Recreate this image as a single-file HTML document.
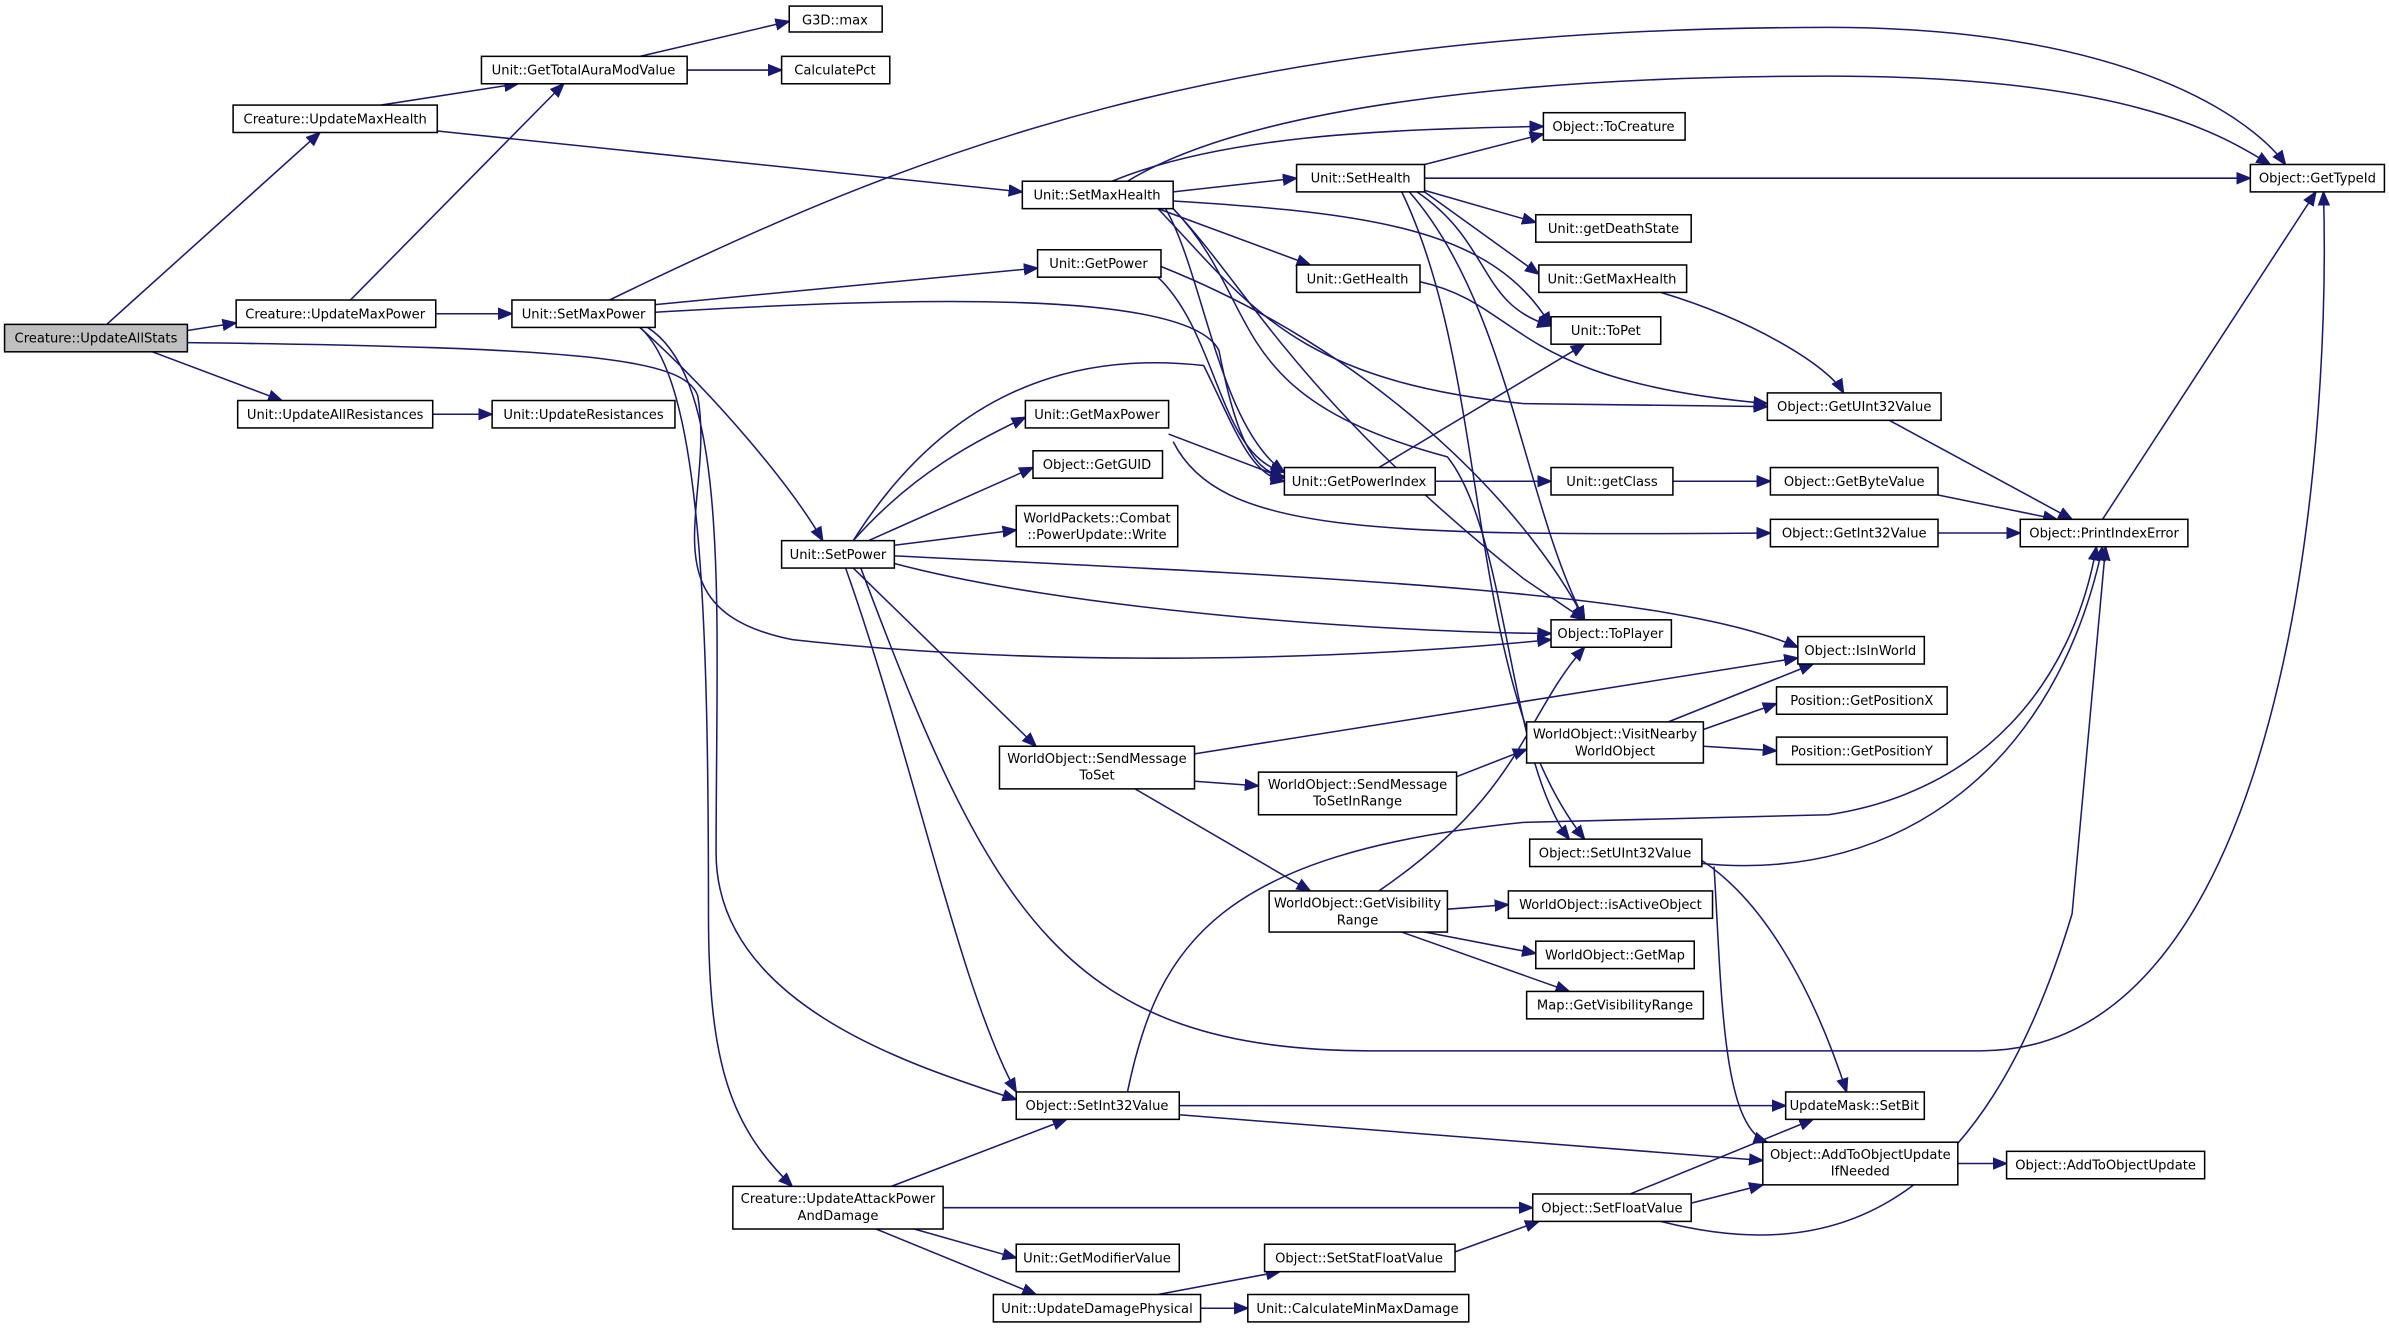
<!DOCTYPE html>
<html><head><meta charset="utf-8"><style>
html,body{margin:0;padding:0;background:#fff;width:2389px;height:1328px;overflow:hidden}
svg{display:block}
text{font-family:"DejaVu Sans","Liberation Sans",sans-serif;font-size:8.6px;fill:#000;text-anchor:middle}
rect{fill:#fff;stroke:#000;stroke-width:1}
path{fill:none;stroke:#191970;stroke-width:1}
</style></head><body>
<svg width="2389" height="1328" viewBox="0 0 1568 872" preserveAspectRatio="none" xmlns="http://www.w3.org/2000/svg">
<defs><marker id="a" viewBox="0 0 10 10" refX="10" refY="5" markerWidth="9" markerHeight="9" markerUnits="userSpaceOnUse" orient="auto"><path d="M0,1 L10,5 L0,9 z" style="fill:#191970;stroke:#191970"/></marker></defs>
<g marker-end="url(#a)">
<path d="M70,213 L210,87"/>
<path d="M123,217 L155,212"/>
<path d="M100,231 L185,263"/>
<path d="M123,225 C380,228 450,235 458,260 C470,330 420,400 520,420 C700,440 900,432 1018,420"/>
<path d="M250,69 L340,55"/>
<path d="M287,86 L671,126"/>
<path d="M230,197 L370,55"/>
<path d="M286,206 L336,206"/>
<path d="M284,272 L323,272"/>
<path d="M420,37 L518,14"/>
<path d="M451,46 L513,46"/>
<path d="M400,197 C600,100 800,18 1200,18 C1400,18 1480,80 1500,108"/>
<path d="M430,200 L681,176"/>
<path d="M430,205 C600,195 780,190 800,230 C810,280 820,310 843,313"/>
<path d="M420,215 C470,260 520,320 540,355"/>
<path d="M425,215 C480,250 470,400 470,560 C470,660 600,700 667,722"/>
<path d="M420,215 C460,250 465,400 465,600 C465,700 480,740 520,779"/>
<path d="M730,119 C800,90 900,85 1013,83"/>
<path d="M740,119 C820,70 1000,50 1200,50 C1400,50 1460,90 1490,108"/>
<path d="M770,126 L851,117"/>
<path d="M760,137 L860,174"/>
<path d="M770,132 C900,140 980,150 1018,214"/>
<path d="M760,137 C820,200 850,250 1000,265 L1160,267"/>
<path d="M765,137 C790,180 800,280 843,310"/>
<path d="M770,137 C820,190 850,260 1000,380 L1040,407"/>
<path d="M770,137 C830,200 800,260 950,300 C990,350 990,500 1030,551"/>
<path d="M935,108 L1013,88"/>
<path d="M935,117 L1477,117"/>
<path d="M935,125 L1008,146"/>
<path d="M935,126 L1010,180"/>
<path d="M930,126 C980,160 970,200 1018,214"/>
<path d="M925,126 C990,200 1000,330 1040,407"/>
<path d="M920,126 C980,250 960,450 1040,551"/>
<path d="M932,185 C1000,200 990,250 1160,265"/>
<path d="M760,182 C800,220 800,300 843,310"/>
<path d="M762,175 C900,230 1000,330 1040,407"/>
<path d="M1090,192 C1150,210 1200,240 1210,258"/>
<path d="M767,285 L843,314"/>
<path d="M770,290 C800,350 900,352 1162,350"/>
<path d="M560,355 C600,310 640,290 673,274"/>
<path d="M570,355 L678,307"/>
<path d="M587,358 L667,348"/>
<path d="M560,355 C620,260 700,230 790,240 C810,280 820,312 843,316"/>
<path d="M587,365 C900,380 1100,390 1180,425"/>
<path d="M587,370 C700,400 900,415 1018,416"/>
<path d="M560,373 L680,490"/>
<path d="M555,373 C600,500 630,650 667,717"/>
<path d="M565,373 C650,600 700,690 900,690 L1300,690 C1500,690 1530,300 1525,126"/>
<path d="M942,316 L1018,316"/>
<path d="M905,307 L1040,226"/>
<path d="M1098,316 L1162,316"/>
<path d="M1272,325 L1350,341"/>
<path d="M1272,350 L1326,350"/>
<path d="M1240,276 L1360,341"/>
<path d="M1380,341 L1520,126"/>
<path d="M784,495 L1180,432"/>
<path d="M784,513 L826,516"/>
<path d="M745,518 L860,585"/>
<path d="M956,510 L1002,492"/>
<path d="M1095,474 L1190,436"/>
<path d="M1118,479 L1166,462"/>
<path d="M1118,490 L1166,493"/>
<path d="M905,585 C1000,520 1000,470 1040,425"/>
<path d="M950,597 L990,594"/>
<path d="M935,612 L1008,626"/>
<path d="M920,612 L1030,651"/>
<path d="M1117,567 C1250,580 1350,500 1380,359"/>
<path d="M1117,565 C1170,600 1200,680 1212,717"/>
<path d="M1125,569 C1130,650 1130,740 1160,750"/>
<path d="M740,717 C760,620 800,560 1000,540 L1200,535 C1300,520 1360,450 1376,359"/>
<path d="M774,726 L1172,726"/>
<path d="M774,732 L1157,762"/>
<path d="M1285,764 L1317,764"/>
<path d="M585,779 L700,735"/>
<path d="M619,793 L1006,793"/>
<path d="M600,807 L667,826"/>
<path d="M575,807 L680,850"/>
<path d="M1070,784 L1190,735"/>
<path d="M1110,790 L1157,778"/>
<path d="M1090,802 C1200,830 1300,800 1360,600 L1382,359"/>
<path d="M955,822 L1010,802"/>
<path d="M760,850 L840,835"/>
<path d="M788,859 L819,859"/>
</g>
<rect x="3" y="213" width="120" height="18" style="fill:#bfbfbf"/><text x="63" y="225">Creature::UpdateAllStats</text>
<rect x="153" y="69" width="134" height="18"/><text x="220" y="81">Creature::UpdateMaxHealth</text>
<rect x="155" y="197" width="131" height="18"/><text x="220" y="209">Creature::UpdateMaxPower</text>
<rect x="156" y="263" width="128" height="18"/><text x="220" y="275">Unit::UpdateAllResistances</text>
<rect x="323" y="263" width="120" height="18"/><text x="383" y="275">Unit::UpdateResistances</text>
<rect x="316" y="37" width="135" height="18"/><text x="383" y="49">Unit::GetTotalAuraModValue</text>
<rect x="518" y="4" width="61" height="17"/><text x="548" y="16">G3D::max</text>
<rect x="513" y="37" width="71" height="18"/><text x="548" y="49">CalculatePct</text>
<rect x="336" y="197" width="94" height="18"/><text x="383" y="209">Unit::SetMaxPower</text>
<rect x="671" y="119" width="99" height="18"/><text x="720" y="131">Unit::SetMaxHealth</text>
<rect x="851" y="108" width="84" height="18"/><text x="893" y="120">Unit::SetHealth</text>
<rect x="851" y="174" width="81" height="18"/><text x="891" y="186">Unit::GetHealth</text>
<rect x="681" y="164" width="81" height="18"/><text x="721" y="176">Unit::GetPower</text>
<rect x="673" y="263" width="94" height="18"/><text x="720" y="275">Unit::GetMaxPower</text>
<rect x="678" y="296" width="85" height="18"/><text x="720" y="308">Object::GetGUID</text>
<rect x="667" y="332" width="106" height="27"/><text x="720" y="343">WorldPackets::Combat</text><text x="720" y="354">::PowerUpdate::Write</text>
<rect x="513" y="355" width="74" height="18"/><text x="550" y="367">Unit::SetPower</text>
<rect x="843" y="307" width="99" height="18"/><text x="892" y="319">Unit::GetPowerIndex</text>
<rect x="1018" y="307" width="80" height="18"/><text x="1058" y="319">Unit::getClass</text>
<rect x="1162" y="307" width="110" height="18"/><text x="1217" y="319">Object::GetByteValue</text>
<rect x="1162" y="341" width="110" height="18"/><text x="1217" y="353">Object::GetInt32Value</text>
<rect x="1326" y="341" width="110" height="18"/><text x="1381" y="353">Object::PrintIndexError</text>
<rect x="1013" y="74" width="93" height="18"/><text x="1059" y="86">Object::ToCreature</text>
<rect x="1477" y="108" width="88" height="18"/><text x="1521" y="120">Object::GetTypeId</text>
<rect x="1008" y="141" width="102" height="18"/><text x="1059" y="153">Unit::getDeathState</text>
<rect x="1010" y="174" width="97" height="18"/><text x="1058" y="186">Unit::GetMaxHealth</text>
<rect x="1018" y="208" width="72" height="18"/><text x="1054" y="220">Unit::ToPet</text>
<rect x="1160" y="258" width="114" height="18"/><text x="1217" y="270">Object::GetUInt32Value</text>
<rect x="1018" y="407" width="79" height="18"/><text x="1057" y="419">Object::ToPlayer</text>
<rect x="1180" y="418" width="83" height="18"/><text x="1221" y="430">Object::IsInWorld</text>
<rect x="1166" y="451" width="112" height="18"/><text x="1222" y="463">Position::GetPositionX</text>
<rect x="1166" y="484" width="112" height="18"/><text x="1222" y="496">Position::GetPositionY</text>
<rect x="1002" y="474" width="116" height="27"/><text x="1060" y="485">WorldObject::VisitNearby</text><text x="1060" y="496">WorldObject</text>
<rect x="656" y="490" width="128" height="28"/><text x="720" y="501">WorldObject::SendMessage</text><text x="720" y="512">ToSet</text>
<rect x="826" y="507" width="130" height="28"/><text x="891" y="518">WorldObject::SendMessage</text><text x="891" y="529">ToSetInRange</text>
<rect x="1004" y="551" width="113" height="18"/><text x="1060" y="563">Object::SetUInt32Value</text>
<rect x="833" y="585" width="117" height="27"/><text x="891" y="596">WorldObject::GetVisibility</text><text x="891" y="607">Range</text>
<rect x="990" y="585" width="134" height="18"/><text x="1057" y="597">WorldObject::isActiveObject</text>
<rect x="1008" y="618" width="104" height="18"/><text x="1060" y="630">WorldObject::GetMap</text>
<rect x="1002" y="651" width="116" height="18"/><text x="1060" y="663">Map::GetVisibilityRange</text>
<rect x="667" y="717" width="107" height="18"/><text x="720" y="729">Object::SetInt32Value</text>
<rect x="1172" y="717" width="91" height="18"/><text x="1217" y="729">UpdateMask::SetBit</text>
<rect x="1157" y="750" width="128" height="28"/><text x="1221" y="761">Object::AddToObjectUpdate</text><text x="1221" y="772">IfNeeded</text>
<rect x="1317" y="756" width="130" height="18"/><text x="1382" y="768">Object::AddToObjectUpdate</text>
<rect x="481" y="779" width="138" height="28"/><text x="550" y="790">Creature::UpdateAttackPower</text><text x="550" y="801">AndDamage</text>
<rect x="1006" y="784" width="104" height="18"/><text x="1058" y="796">Object::SetFloatValue</text>
<rect x="667" y="817" width="107" height="18"/><text x="720" y="829">Unit::GetModifierValue</text>
<rect x="830" y="817" width="125" height="18"/><text x="892" y="829">Object::SetStatFloatValue</text>
<rect x="652" y="850" width="136" height="18"/><text x="720" y="862">Unit::UpdateDamagePhysical</text>
<rect x="819" y="850" width="145" height="18"/><text x="891" y="862">Unit::CalculateMinMaxDamage</text>
</svg>
</body></html>
